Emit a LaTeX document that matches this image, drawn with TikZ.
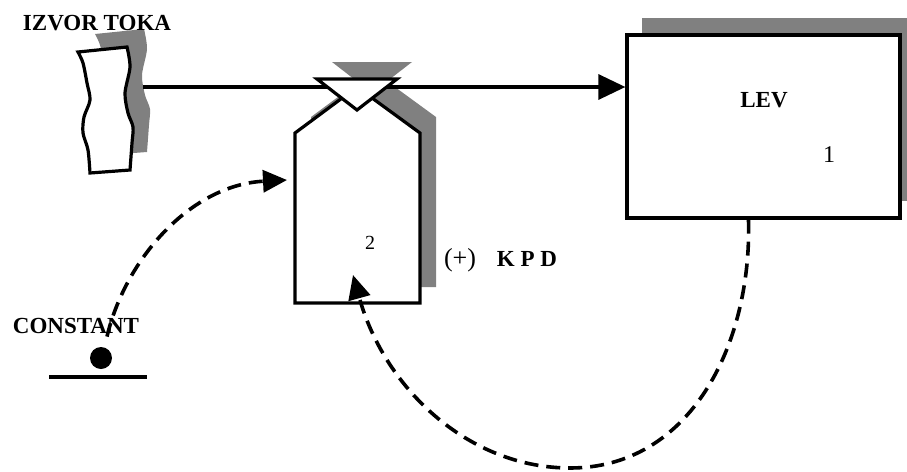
\documentclass[tikz,border=0pt]{standalone}
\usepackage{fontspec}
\setmainfont{Liberation Serif}
\usetikzlibrary{arrows.meta, positioning, shadows}
\tikzset{
  outline/.style={draw, line width=1.6pt, fill=white},
  shadowfill/.style={fill=gray, draw=none},
  levelbox/.style={outline, minimum width=136.5pt, minimum height=91.5pt, inner sep=0pt,
                   general shadow={fill=gray, shadow xshift=7.5pt, shadow yshift=8.5pt}},
  flowarrow/.style={line width=1.6pt, -{Triangle[length=13.5pt, width=12.5pt]}},
  infoarrow/.style={line width=1.8pt, dash pattern=on 7pt off 4pt,
                    -{Triangle[length=12pt, width=11pt]}},
  boldlabel/.style={font=\fontsize{11.5}{13}\selectfont\bfseries, inner sep=0pt},
  plainlabel/.style={font=\fontsize{12}{14}\selectfont, inner sep=0pt},
  constdot/.style={circle, fill=black, minimum size=11pt, inner sep=0pt}
}
\newcommand{\sourceoutline}{(78,52) -- plot[smooth] coordinates {(127,47) (130,67) (125,93) (128,113) (133,127) (132,143) (130,170)}
  -- plot[smooth] coordinates {(90,173) (88,150) (83,133) (84,117) (90,100) (87,83) (83,63) (78,52)} -- cycle}
\newcommand{\convoutline}{(295,133) -- (357,87) -- (420,133) -- (420,303) -- (295,303) -- cycle}
\newcommand{\valveoutline}{(317,79) -- (397,79) -- (357,110) -- cycle}

\begin{document}
\begin{tikzpicture}[x=0.5pt, y=-0.5pt]
\useasboundingbox (0,0) rectangle (907,472);

% Source
\fill[shadowfill, shift={(17,-18)}] \sourceoutline;
\draw[outline] \sourceoutline;
\coordinate (srcout) at (143,87);

% Converter
\fill[shadowfill, shift={(16,-16)}] \convoutline;
\draw[outline, line join=miter] \convoutline;
\coordinate (kpdin) at (287,180);
\coordinate (kpdfb) at (353,275);

% Level
\node[levelbox] (lev) at (763.5,126.5) {};
\node[boldlabel] (levname) at (764,100) {LEV};
\node[plainlabel] (levnum) at (829,155) {1};

% Flow with valve
\fill[shadowfill, shift={(15,-17)}] \valveoutline;
\draw[flowarrow] (srcout) -- (srcout -| lev.west);
\draw[outline, line join=miter] \valveoutline;

% Labels
\node[boldlabel] (srcname) at (97,23) {IZVOR TOKA};
\node[plainlabel, font=\fontsize{10}{12}\selectfont] (kpdnum) at (370,243) {2};
\node[plainlabel, font=\fontsize{13}{15}\selectfont] (kpdsign) at (460,260) {(+)};
\node[boldlabel] (kpdname) at (527,259) {K P D};
\node[boldlabel] (constname) at (76,326) {CONSTANT};

% Constant
\node[constdot] (const) at (101,358) {};
\draw[line width=1.6pt] (49,377) -- (147,377);

% Information links
\draw[infoarrow] ([xshift=3pt, yshift=5pt]const.north) .. controls (125,260) and (190,185) .. (kpdin);
\draw[infoarrow] ([xshift=-7.5pt]lev.south) .. controls (752,345) and (690,468) .. (570,468)
  .. controls (470,468) and (385,390) .. (kpdfb);

\end{tikzpicture}
\end{document}
